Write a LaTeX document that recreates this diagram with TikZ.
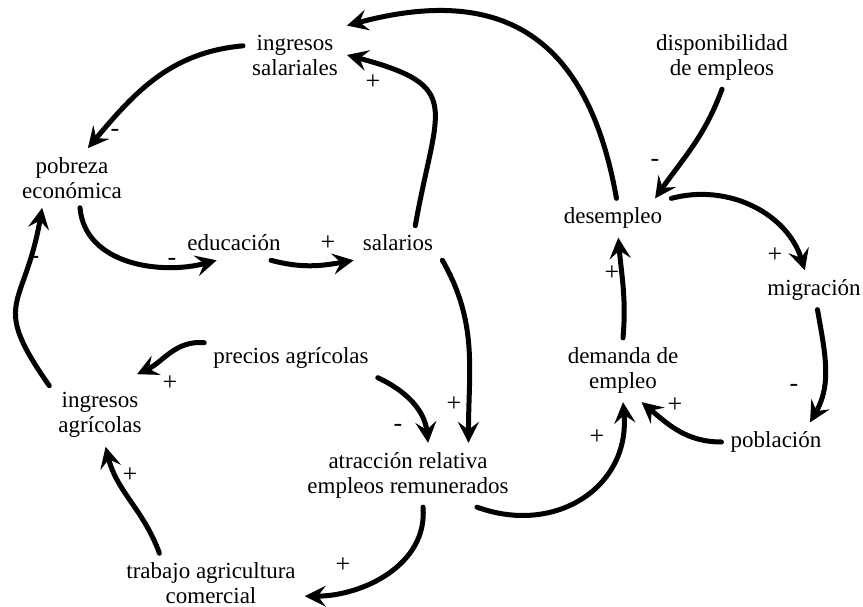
\documentclass[tikz,border=0pt]{standalone}
\usepackage{fontspec}
\setmainfont{Liberation Serif}
\usetikzlibrary{arrows.meta}
\tikzset{
  var/.style={align=center, inner sep=9pt, font=\fontsize{23}{25}\selectfont},
  sign/.style={inner sep=1pt, font=\fontsize{26}{26}\selectfont},
  link/.style={line width=5pt, line cap=round, -{Stealth[length=21pt,width=21pt,inset=8pt]}}
}
\begin{document}
\begin{tikzpicture}[x=1pt,y=-1pt]
\useasboundingbox (0,0) rectangle (863,607);
\node[var] (isal) at (295,55) {ingresos\\salariales};
\node[var] (pob) at (72,178) {pobreza\\económica};
\node[var] (edu) at (234,243) {educación};
\node[var] (sal) at (398,243) {salarios};
\node[var] (des) at (613,218) {desempleo};
\node[var] (disp) at (722,57) {disponibilidad\\de empleos};
\node[var] (mig) at (814,290) {migración};
\node[var] (dem) at (623,370) {demanda de\\empleo};
\node[var] (pobl) at (776,442) {población};
\node[var] (atr) at (408,475) {atracción relativa\\empleos remunerados};
\node[var] (pre) at (291,358) {precios agrícolas};
\node[var] (iagr) at (100,415) {ingresos\\agrícolas};
\node[var] (trab) at (211,583) {trabajo agricultura\\comercial};

\draw[link] (isal.170) to[out=185,in=50] (pob.62);
\draw[link] (pob.-75) to[out=-85,in=195] (edu.-135);
\draw[link] (edu.-25) to[out=-15,in=190] (sal.south west);
\draw[link] (sal.45) to[out=80,in=-15,looseness=1.7] (isal.east);
\draw[link] (des.80) to[out=100,in=15,looseness=1.3] (isal.north east);
\draw[link] (disp.south) to[out=-110,in=55] (des.25);
\draw[link] (des.north east) to[out=15,in=107] (mig.115);
\draw[link] (mig.-80) to[out=-80,in=60] (pobl.30);
\draw[link] (pobl.west) to[out=180,in=-40] (dem.-60);
\draw[link] (dem.north) to[out=85,in=-85] (des.-75);
\draw[link] (atr.-25) to[out=-20,in=-85,looseness=1.2] (dem.south);
\draw[link] (sal.south east) to[out=-60,in=90] (atr.28);
\draw[link] (pre.south east) to[out=-25,in=96] (atr.58);
\draw[link] (pre.170) to[out=175,in=25] ([xshift=37pt,yshift=9pt]iagr.north);
\draw[link] (iagr.150) to[out=125,in=-100,looseness=1.5] (pob.-135);
\draw[link] (trab.150) to[out=110,in=-76] (iagr.-80);
\draw[link] (atr.-65) to[out=-85,in=0] (trab.-8);

\node[sign] (s1) at (115,133) {-};
\node[sign] (s2) at (172,262) {-};
\node[sign] (s3) at (328,243) {+};
\node[sign] (s4) at (373,82) {+};
\node[sign] (s6) at (655,163) {-};
\node[sign] (s7) at (775,255) {+};
\node[sign] (s8) at (794,388) {-};
\node[sign] (s9) at (675,405) {+};
\node[sign] (s10) at (612,273) {+};
\node[sign] (s11) at (597,437) {+};
\node[sign] (s12) at (454,404) {+};
\node[sign] (s13) at (398,428) {-};
\node[sign] (s14) at (170,383) {+};
\node[sign] (s15) at (35,260) {-};
\node[sign] (s16) at (130,475) {+};
\node[sign] (s17) at (343,565) {+};
\end{tikzpicture}
\end{document}
